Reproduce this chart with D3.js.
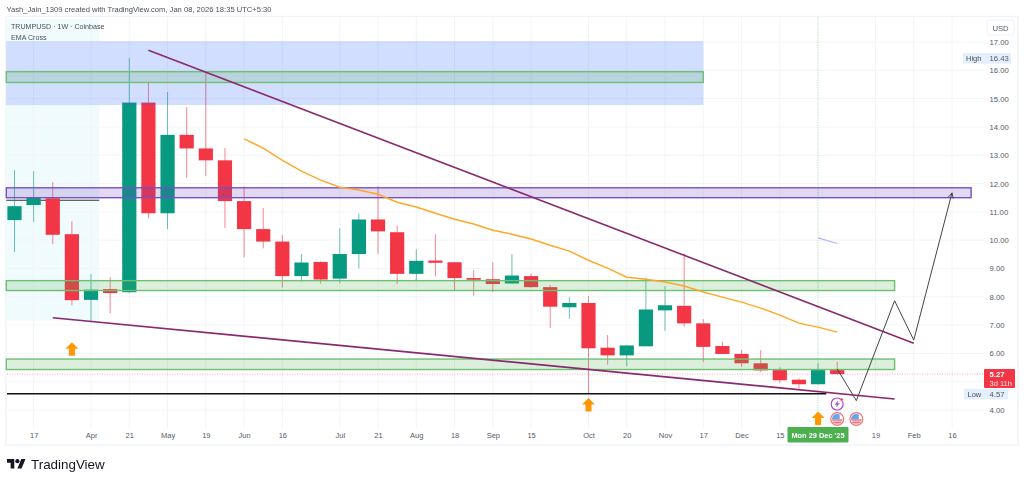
<!DOCTYPE html>
<html><head><meta charset="utf-8">
<script src="https://cdn.jsdelivr.net/npm/d3@7/dist/d3.min.js"></script>
<style>
html,body{margin:0;padding:0;background:#fff;overflow:hidden}
svg{display:block;filter:blur(0.3px)}
text{font-family:"Liberation Sans",sans-serif}
</style></head><body>
<svg id="c" width="1024" height="483"></svg>
<script>
const firstWeek = "2025-03-10";
const opens  = [10.71,11.24,11.48,10.21,7.89,8.27,8.16,14.86,10.95,13.72,13.24,12.82,11.38,10.39,9.95,8.73,9.23,8.64,9.51,10.73,10.28,8.81,9.28,9.22,8.66,8.62,8.47,8.73,8.34,7.63,7.78,6.2,5.93,6.25,7.52,7.68,7.06,6.26,5.98,5.65,5.41,5.07,4.91,5.41];
const highs  = [12.47,12.44,12.05,10.67,8.8,8.7,16.43,15.59,15.23,14.7,15.94,13.25,11.9,11.14,10.18,9.51,9.25,10.42,10.94,11.91,10.52,9.68,10.21,9.22,8.94,9.22,9.51,8.83,8.41,7.98,8.03,6.65,6.3,8.68,8.38,9.53,7.21,6.41,6.12,6.12,5.51,5.12,5.65,5.7];
const lows   = [9.58,10.64,9.86,7.7,7.15,7.42,8.13,10.78,10.39,12.2,12.27,10.43,9.39,9.71,8.33,8.53,8.47,8.48,9.0,9.51,8.45,8.59,8.72,8.21,8.03,8.17,8.45,8.32,6.9,7.22,4.57,5.6,5.55,6.25,6.8,6.94,5.7,5.98,5.53,5.34,4.96,4.76,4.91,5.25];
const closes = [11.2,11.49,10.19,7.88,8.25,8.13,14.86,10.95,13.72,13.24,12.82,11.38,10.39,9.95,8.73,9.21,8.61,9.51,10.73,10.31,8.81,9.27,9.2,8.66,8.6,8.45,8.75,8.34,7.65,7.78,6.18,5.93,6.28,7.55,7.7,7.06,6.23,5.98,5.65,5.4,5.05,4.91,5.41,5.27];

const emaStart = "2025-06-02";
const emaValues = [13.58,13.25,12.82,12.44,12.12,11.87,11.77,11.62,11.34,11.17,10.95,10.74,10.57,10.35,10.21,10.04,9.82,9.61,9.29,9.01,8.69,8.62,8.52,8.38,8.17,7.99,7.81,7.6,7.35,7.07,6.93,6.75];

const priceTicks = [4,5,6,7,8,9,10,11,12,13,14,15,16,17];
const priceLabelTicks = [4,6,7,8,9,10,11,12,13,14,15,16,17];
const timeTickDates = ["2025-03-17","2025-04-07","2025-04-21","2025-05-05","2025-05-19","2025-06-02","2025-06-16","2025-07-07","2025-07-21","2025-08-04","2025-08-18","2025-09-01","2025-09-15","2025-10-06","2025-10-20","2025-11-03","2025-11-17","2025-12-01","2025-12-15","2026-01-19","2026-02-02","2026-02-16"];
const timeTickLabels = ["17","Apr","21","May","19","Jun","16","Jul","21","Aug","18","Sep","15","Oct","20","Nov","17","Dec","15","19","Feb","16"];

const chartLeftDate = "2025-03-07";
const zoneEnds   = ["2025-11-17","2025-11-17","2026-02-23","2026-01-26","2026-01-26"];
const zoneTops   = [17.03,15.95,11.85,8.57,5.8];
const zoneBottoms= [14.77,15.57,11.5,8.22,5.43];
const zoneKinds  = ["blue","green","purple","green","green"];

const cyanEnd = "2025-04-10";
const cyanTops = [17.8,14.77];
const cyanBottoms = [17.03,7.15];

const trendStarts = ["2025-04-28","2025-03-24"];
const trendEnds   = ["2026-02-02","2026-01-26"];
const trendFrom   = [16.71,7.26];
const trendTo     = [6.36,4.39];

const pathDates  = ["2026-01-05","2026-01-12","2026-01-26","2026-02-02","2026-02-16"];
const pathPrices = [5.45,4.33,7.86,6.47,11.67];

const arrowDates  = ["2025-03-31","2025-10-06","2025-12-29"];
const arrowPrices = [6.39,4.42,3.95];

const highValue = 16.43, lowValue = 4.57, lastValue = 5.27;

const svg = d3.select("#c");
const day = s => d3.utcParse("%Y-%m-%d")(s);
const x = d3.scaleUtc().domain([day(firstWeek),day("2026-02-16")]).range([14.5,952]);
const y = d3.scaleLinear().domain([4,17]).range([410,42]);
const weeks = opens.map((_,i)=>d3.utcDay.offset(day(firstWeek),i*7));
const bodyW = 14.2;
const UP="#089981", DOWN="#f23645", AX="#555a66", FRAME="#f0f3fa", GRID="#f3f4f7";
const LX=x(day(chartLeftDate));

// frame
svg.append("rect").attr("x",6).attr("y",16.5).attr("width",1012).attr("height",428.5).attr("fill","#fff").attr("stroke",FRAME).attr("stroke-width",1.4);

// light cyan region
svg.append("g").selectAll("rect").data(cyanTops).join("rect")
  .attr("x",LX).attr("width",x(day(cyanEnd))-LX)
  .attr("y",d=>y(d)).attr("height",(d,i)=>y(cyanBottoms[i])-y(d)).attr("fill","#f0fbfe");

// grid
svg.append("g").selectAll("line").data(priceTicks).join("line")
  .attr("x1",7).attr("x2",984).attr("y1",d=>y(d)).attr("y2",d=>y(d)).attr("stroke",GRID);
svg.append("g").selectAll("line").data(timeTickDates).join("line")
  .attr("x1",d=>x(day(d))).attr("x2",d=>x(day(d))).attr("y1",17).attr("y2",428).attr("stroke",GRID);

// black short level
svg.append("line").attr("x1",LX).attr("x2",x(day(cyanEnd))).attr("y1",y(11.41)).attr("y2",y(11.41)).attr("stroke","#333").attr("stroke-width",1.2);

// last-price dotted
svg.append("line").attr("x1",7).attr("x2",984).attr("y1",y(lastValue)).attr("y2",y(lastValue))
  .attr("stroke","#f7a5ac").attr("stroke-width",0.9).attr("stroke-dasharray","1 1.5");

// crosshair
svg.append("line").attr("x1",x(day("2025-12-29"))).attr("x2",x(day("2025-12-29"))).attr("y1",17).attr("y2",428)
  .attr("stroke","#bfe3c4").attr("stroke-width",1).attr("stroke-dasharray","1.5 1");

// candles
const cg = svg.append("g");
cg.selectAll("line").data(weeks).join("line")
  .attr("x1",d=>x(d)).attr("x2",d=>x(d))
  .attr("y1",(d,i)=>y(highs[i])).attr("y2",(d,i)=>y(lows[i]))
  .attr("stroke",(d,i)=>closes[i]>=opens[i]?UP:DOWN).attr("stroke-width",1).attr("stroke-opacity",0.6);
cg.selectAll("rect").data(weeks).join("rect")
  .attr("x",d=>x(d)-bodyW/2).attr("width",bodyW)
  .attr("y",(d,i)=>y(Math.max(opens[i],closes[i])))
  .attr("height",(d,i)=>Math.max(1.5,Math.abs(y(opens[i])-y(closes[i]))))
  .attr("fill",(d,i)=>closes[i]>=opens[i]?UP:DOWN);

// zones
const zoneFill={blue:"rgba(41,98,255,0.21)",green:"rgba(76,175,80,0.2)",purple:"rgba(103,58,183,0.2)"};
const zoneStroke={blue:"none",green:"#6cc070",purple:"#7a50c8"};
svg.append("g").selectAll("rect").data(zoneKinds).join("rect")
  .attr("x",LX).attr("width",(d,i)=>x(day(zoneEnds[i]))-LX)
  .attr("y",(d,i)=>y(zoneTops[i])).attr("height",(d,i)=>y(zoneBottoms[i])-y(zoneTops[i]))
  .attr("fill",d=>zoneFill[d]).attr("stroke",d=>zoneStroke[d]).attr("stroke-width",1.4);

// low level line
svg.append("line").attr("x1",7).attr("x2",x(day("2026-01-01"))).attr("y1",y(lowValue)).attr("y2",y(lowValue)).attr("stroke","#111").attr("stroke-width",1.5);

// EMA
const emaDates = emaValues.map((_,i)=>d3.utcDay.offset(day(emaStart),i*7));
svg.append("path").attr("d",d3.line().x((d,i)=>x(emaDates[i])).y(d=>y(d))(emaValues))
  .attr("fill","none").attr("stroke","#ffa726").attr("stroke-width",1.4);

// trend lines
svg.append("g").selectAll("line").data(trendStarts).join("line")
  .attr("x1",d=>x(day(d))).attr("y1",(d,i)=>y(trendFrom[i]))
  .attr("x2",(d,i)=>x(day(trendEnds[i]))).attr("y2",(d,i)=>y(trendTo[i]))
  .attr("stroke","#8a2a6e").attr("stroke-width",1.6);

// small blue line
svg.append("line").attr("x1",x(day("2025-12-29"))).attr("x2",x(day("2026-01-05"))).attr("y1",y(10.08)).attr("y2",y(9.88))
  .attr("stroke","#aab4ff").attr("stroke-width",1.1);

// projection path
const defs = svg.append("defs");
defs.append("marker").attr("id","ah").attr("viewBox","0 0 8 8").attr("refX",7).attr("refY",4).attr("markerWidth",7).attr("markerHeight",7)
  .attr("markerUnits","userSpaceOnUse").attr("orient","auto")
  .append("path").attr("d","M1 1L7 4L1 7").attr("fill","none").attr("stroke","#444").attr("stroke-width",1);
svg.append("path").attr("d",d3.line().x(d=>x(day(d))).y((d,i)=>y(pathPrices[i]))(pathDates))
  .attr("fill","none").attr("stroke","#444").attr("stroke-width",1).attr("marker-end","url(#ah)");

// orange arrows
svg.append("g").selectAll("path").data(arrowDates).join("path")
  .attr("transform",(d,i)=>`translate(${x(day(d))},${y(arrowPrices[i])})`)
  .attr("d","M0 0L6.5 6.5H3V13.5H-3V6.5H-6.5Z").attr("fill","#ff9800");

// event icons
const flagDates=["2026-01-05","2026-01-12"];
const fy=419;
flagDates.forEach(d=>{
  const g=svg.append("g").attr("transform",`translate(${x(day(d))},${fy})`);
  const id="fc"+d;
  defs.append("clipPath").attr("id",id).append("circle").attr("r",5.2);
  g.append("circle").attr("r",6.4).attr("fill","#fff").attr("stroke","#f0747d").attr("stroke-width",1.2);
  const c=g.append("g").attr("clip-path",`url(#${id})`);
  c.append("rect").attr("x",-6).attr("y",-6).attr("width",12).attr("height",12).attr("fill","#fff");
  [0.4,2.6,4.6].forEach(v=>c.append("rect").attr("x",-6).attr("y",v).attr("width",12).attr("height",1.2).attr("fill","#e8505b"));
  c.append("path").attr("d","M-6 0.3V-6H2.5V0.3Z").attr("fill","#64a8ec");
});
const bolt=svg.append("g").attr("transform",`translate(${x(day("2026-01-05"))},404)`);
bolt.append("circle").attr("r",6).attr("fill","#fff").attr("stroke","#a94cc8").attr("stroke-width",1.2);
bolt.append("path").attr("d","M1 -3.5L-2.5 0.8H-0.3L-1 3.5L2.5 -0.8H0.3Z").attr("fill","#a94cc8");
bolt.append("circle").attr("cx",4.4).attr("cy",-4.4).attr("r",1.6).attr("fill","#f23645").attr("stroke","#fff").attr("stroke-width",.5);

// axes
const FONT='"Liberation Sans",sans-serif';
const xAxis=d3.axisBottom(x).tickValues(timeTickDates.map(day)).tickFormat((d,i)=>timeTickLabels[i]).tickSize(0).tickPadding(0);
const gx=svg.append("g").attr("transform","translate(0,428.5)").call(xAxis);
gx.select(".domain").remove();
gx.selectAll("text").attr("fill",AX).attr("font-size",7.5).attr("dy","0.3em").attr("y",7.5).attr("font-family",FONT);

const yAxis=d3.axisRight(y).tickValues(priceLabelTicks).tickFormat(d3.format(".2f")).tickSize(0).tickPadding(0);
const gy=svg.append("g").attr("transform","translate(989.5,0)").call(yAxis);
gy.select(".domain").remove();
gy.selectAll("text").attr("fill",AX).attr("font-size",7.7).attr("font-family",FONT);

// USD box
svg.append("rect").attr("x",987).attr("y",20).attr("width",27).attr("height",15).attr("rx",2).attr("fill","#fff").attr("stroke","#f0f1f4");
svg.append("text").attr("x",1000.5).attr("y",31).attr("text-anchor","middle").attr("font-size",7.7).attr("fill",AX).text("USD");

// High / Low tags
svg.append("rect").attr("x",963).attr("y",y(highValue)-5).attr("width",48).attr("height",10.5).attr("fill","#e4effd");
svg.append("text").attr("x",966).attr("y",y(highValue)+3).attr("font-size",7.5).attr("fill","#4a4f5c").text("High");
svg.append("text").attr("x",989.5).attr("y",y(highValue)+3).attr("font-size",7.7).attr("fill",AX).text(d3.format(".2f")(highValue));
svg.append("rect").attr("x",964).attr("y",y(lowValue)-5).attr("width",44).attr("height",10.5).attr("fill","#e4effd");
svg.append("text").attr("x",967.5).attr("y",y(lowValue)+3).attr("font-size",7.5).attr("fill","#4a4f5c").text("Low");
svg.append("text").attr("x",989.5).attr("y",y(lowValue)+3).attr("font-size",7.7).attr("fill",AX).text(d3.format(".2f")(lowValue));

// last price tag
svg.append("rect").attr("x",984).attr("y",369).attr("width",31).attr("height",19).attr("rx",1).attr("fill",DOWN);
svg.append("text").attr("x",989.5).attr("y",376.5).attr("font-size",7.7).attr("font-weight",700).attr("fill","#fff").text(d3.format(".2f")(lastValue));
svg.append("text").attr("x",989.5).attr("y",385.5).attr("font-size",7.5).attr("fill","#ffe0e3").text("3d 11h");

// crosshair date tag
svg.append("rect").attr("x",787.5).attr("y",427).attr("width",61).attr("height",15.5).attr("rx",1).attr("fill","#4caf50");
svg.append("text").attr("x",818).attr("y",438).attr("text-anchor","middle").attr("font-size",7.4).attr("font-weight",700).attr("fill","#fff").text("Mon 29 Dec '25");

// header
svg.append("text").attr("x",6.5).attr("y",11.7).attr("font-size",7.6).attr("fill","#4a4f5c").text("Yash_Jain_1309 created with TradingView.com, Jan 08, 2026 18:35 UTC+5:30");
svg.append("text").attr("x",11).attr("y",28.5).attr("font-size",7.1).attr("fill","#4a4f5c").text("TRUMPUSD · 1W · Coinbase");
svg.append("text").attr("x",11).attr("y",39.5).attr("font-size",7.1).attr("fill","#4a4f5c").text("EMA Cross");

// logo
const logo=svg.append("g").attr("transform","translate(7,457) scale(0.52)");
logo.append("path").attr("d","M14 22H7V11H0V4h14v18zM28 22h-8l7.5-18h8L28 22z").attr("fill","#131722");
logo.append("circle").attr("cx",20).attr("cy",8).attr("r",4).attr("fill","#131722");
svg.append("text").attr("x",31).attr("y",469).attr("font-size",13.4).attr("font-weight",500).attr("font-family","Inter,sans-serif").attr("fill","#131722").text("TradingView");
</script>
</body></html>
